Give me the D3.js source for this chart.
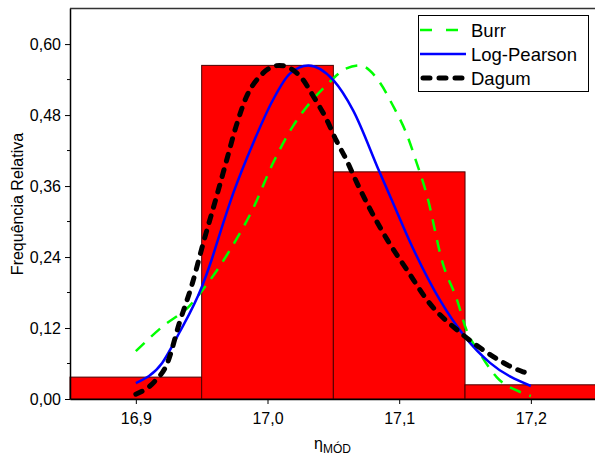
<!DOCTYPE html>
<html>
<head>
<meta charset="utf-8">
<script src="https://cdn.jsdelivr.net/npm/d3@7"></script>
<style>
  body { margin: 0; background: #fff; }
  svg { display: block; font-family: "Liberation Sans", Arial, sans-serif; }
</style>
</head>
<body>
<div id="chart"></div>
<script>
// histogram bins (edges) and relative frequencies
var binEdges = [16.85, 16.95, 17.05, 17.15, 17.25];
var binFreq = [0.037, 0.564, 0.384, 0.024];

// fitted curves
var burrX = [16.9, 16.92, 16.941, 16.951, 16.971, 16.989, 17.004, 17.019, 17.032, 17.045, 17.06, 17.07, 17.085, 17.095, 17.106, 17.113, 17.121, 17.133, 17.144, 17.151, 17.161, 17.174, 17.194, 17.2];
var burrY = [0.081, 0.122, 0.158, 0.185, 0.250, 0.322, 0.398, 0.460, 0.500, 0.531, 0.559, 0.564, 0.536, 0.497, 0.446, 0.401, 0.345, 0.23, 0.167, 0.117, 0.078, 0.037, 0.01, 0.005];

var lpX = [16.9, 16.92, 16.933, 16.95, 16.9575, 16.964, 16.974, 16.989, 17.004, 17.017, 17.031, 17.05, 17.065, 17.085, 17.095, 17.11, 17.131, 17.15, 17.169, 17.2];
var lpY = [0.027, 0.061, 0.112, 0.189, 0.235, 0.281, 0.348, 0.432, 0.505, 0.550, 0.564, 0.539, 0.488, 0.384, 0.333, 0.257, 0.167, 0.105, 0.061, 0.022];

var dagX = [16.9, 16.914, 16.924, 16.933, 16.943, 16.951, 16.961, 16.969, 16.976, 16.984, 16.994, 17.009, 17.025, 17.035, 17.045, 17.052, 17.06, 17.068, 17.091, 17.106, 17.123, 17.146, 17.167, 17.194, 17.2];
var dagY = [0.008, 0.029, 0.061, 0.128, 0.196, 0.262, 0.340, 0.404, 0.460, 0.511, 0.545, 0.564, 0.545, 0.511, 0.472, 0.438, 0.404, 0.365, 0.269, 0.218, 0.162, 0.113, 0.078, 0.046, 0.042];

var xTicks = [16.9, 17.0, 17.1, 17.2];
var yTicks = [0, 0.12, 0.24, 0.36, 0.48, 0.60];
var yMinor = [0.06, 0.18, 0.30, 0.42, 0.54];

var legendNames = ["Burr", "Log-Pearson", "Dagum"];

var width = 595, height = 459;
var svg = d3.select("#chart").append("svg")
    .attr("width", width)
    .attr("height", height);

var x = d3.scaleLinear().domain([16.85, 17.25]).range([70, 596.7]);
var y = d3.scaleLinear().domain([0, 0.661]).range([399, 8]);

var fmt = function(d) { return d3.format(".2f")(d).replace(".", ","); };

// bars
svg.append("g").selectAll("rect")
    .data(binFreq)
    .enter().append("rect")
    .attr("x", function(d, i) { return x(binEdges[i]); })
    .attr("y", function(d) { return y(d); })
    .attr("width", function(d, i) { return x(binEdges[i + 1]) - x(binEdges[i]); })
    .attr("height", function(d) { return y(0) - y(d); })
    .attr("fill", "#ff0000")
    .attr("stroke", "#4a0000")
    .attr("stroke-width", 1);

var line = d3.line()
    .x(function(d) { return x(d[0]); })
    .y(function(d) { return y(d[1]); })
    .curve(d3.curveMonotoneX);

var series = [
  { xs: burrX, ys: burrY, color: "#00ff00", width: 2.5, dash: "12,9", cap: "butt" },
  { xs: lpX, ys: lpY, color: "#0000ff", width: 2.5, dash: null, cap: "butt" },
  { xs: dagX, ys: dagY, color: "#000000", width: 5, dash: "7,9", cap: "round" }
];

series.forEach(function(s) {
  svg.append("path")
      .datum(s.xs.map(function(v, i) { return [v, s.ys[i]]; }))
      .attr("d", line)
      .attr("fill", "none")
      .attr("stroke", s.color)
      .attr("stroke-width", s.width)
      .attr("stroke-linecap", s.cap)
      .attr("stroke-dasharray", s.dash);
});

// axes
var xAxis = d3.axisBottom(x).tickValues(xTicks).tickSize(5).tickSizeOuter(0)
    .tickFormat(function(d) { return d3.format(".1f")(d).replace(".", ","); });
var gx = svg.append("g").attr("transform", "translate(0,399)").call(xAxis);
gx.select(".domain").attr("stroke", "#000").attr("stroke-width", 1.5);
gx.selectAll("text").attr("font-size", 16).attr("fill", "#000").attr("dy", "1.05em");

var yAxis = d3.axisLeft(y).tickValues(yTicks).tickSize(5).tickSizeOuter(0).tickFormat(fmt);
var gy = svg.append("g").attr("transform", "translate(70,0)").call(yAxis);
gy.select(".domain").attr("stroke", "#000").attr("stroke-width", 1.5);
gy.selectAll("text").attr("font-size", 16).attr("fill", "#000").attr("x", -9);

gy.selectAll(".minor").data(yMinor).enter().append("line")
    .attr("class", "minor")
    .attr("x1", -3).attr("x2", 0)
    .attr("y1", function(d) { return y(d); })
    .attr("y2", function(d) { return y(d); })
    .attr("stroke", "#000");

// top frame
svg.append("line")
    .attr("x1", 70).attr("x2", width)
    .attr("y1", 8.5).attr("y2", 8.5)
    .attr("stroke", "#333").attr("stroke-width", 1.5);

// axis titles
svg.append("text")
    .attr("transform", "translate(23,204) rotate(-90)")
    .attr("text-anchor", "middle")
    .attr("font-size", 16)
    .text("Frequência Relativa");

var xl = svg.append("text")
    .attr("x", 314).attr("y", 449)
    .attr("font-size", 16);
xl.append("tspan").text("η");
xl.append("tspan").attr("font-size", 12).attr("dy", 4).text("MÓD");

// legend
var lg = svg.append("g");
lg.append("rect")
    .attr("x", 418.5).attr("y", 15.5)
    .attr("width", 170).attr("height", 76)
    .attr("fill", "#fff").attr("stroke", "#000");

legendNames.forEach(function(name, i) {
  var s = series[i];
  var ly = 30 + i * 24;
  lg.append("line")
      .attr("x1", s.cap === "round" ? 423 : 420).attr("x2", 466)
      .attr("y1", ly).attr("y2", ly)
      .attr("stroke", s.color)
      .attr("stroke-width", s.width)
      .attr("stroke-linecap", s.cap)
      .attr("stroke-dasharray", i === 0 ? "12,14" : s.dash);
  lg.append("text")
      .attr("x", 471).attr("y", ly + 6.5)
      .attr("font-size", 18.5)
      .text(name);
});
</script>
</body>
</html>
